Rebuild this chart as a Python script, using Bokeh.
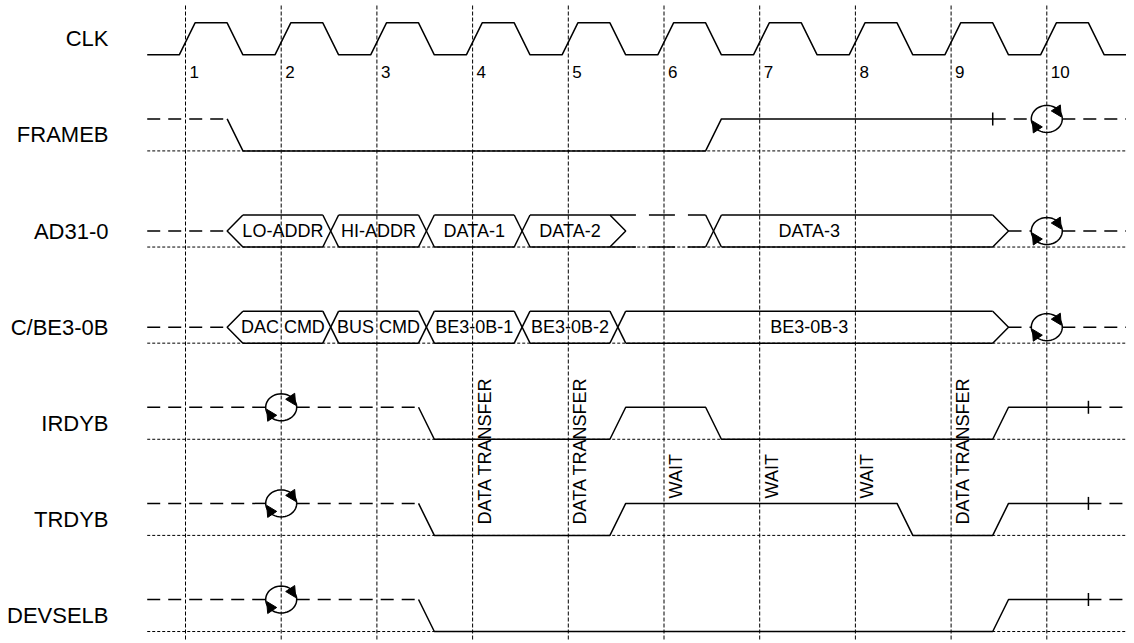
import math
from bokeh.plotting import figure
from bokeh.models import Range1d
from bokeh.core.properties import value
from bokeh.embed import file_html
from bokeh.resources import INLINE

# ---------------- data ----------------
signal_names = ["CLK", "FRAMEB", "AD31-0", "C/BE3-0B", "IRDYB", "TRDYB", "DEVSELB"]
clock_edges = [1, 2, 3, 4, 5, 6, 7, 8, 9, 10]
clock_labels = ["1", "2", "3", "4", "5", "6", "7", "8", "9", "10"]

# single-bit signals: "Z" released (dashed high), "0"/"1" driven.
# a change starts at the falling clock edge of the listed cycle
frameb_states = ["Z", "0", "1", "Z"]
frameb_changes = [1, 6, 9]
frameb_turnaround = [10]

irdyb_states = ["Z", "0", "1", "0", "1", "Z"]
irdyb_changes = [3, 5, 6, 9, 10]
irdyb_turnaround = [2]

trdyb_states = ["Z", "0", "1", "0", "1", "Z"]
trdyb_changes = [3, 5, 8, 9, 10]
trdyb_turnaround = [2]

devselb_states = ["Z", "0", "1", "Z"]
devselb_changes = [3, 9, 10]
devselb_turnaround = [2]

# buses: "Z" released (dashed middle), "X" not valid (dashed rails), other = value
ad_states = ["Z", "LO-ADDR", "HI-ADDR", "DATA-1", "DATA-2", "X", "DATA-3", "Z"]
ad_changes = [1, 2, 3, 4, 5, 6, 9]
ad_turnaround = [10]

cbe_states = ["Z", "DAC CMD", "BUS CMD", "BE3-0B-1", "BE3-0B-2", "BE3-0B-3", "Z"]
cbe_changes = [1, 2, 3, 4, 5, 9]
cbe_turnaround = [10]

annotation_cycles = [4, 5, 6, 7, 8, 9]
annotation_texts = ["DATA TRANSFER", "DATA TRANSFER", "WAIT", "WAIT", "WAIT", "DATA TRANSFER"]

# ---------------- layout / style ----------------
W, H = 1126, 640
EDGE1_PX = 185.0
CYCLE_PX = 95.7


def t_of_px(px):
    return 1 + (px - EDGE1_PX) / CYCLE_PX


ROW_LOW0 = 54.3
ROW_STEP = 96.12
AMP = 32.0
T0 = 0.6
T1 = 11.3
OFF = 0.435      # transitions start at falling clock edge
D = 0.165        # transition duration
CLK_RISE = -0.065
RX = 15.5 / CYCLE_PX
RY = 13.5
TICK = 6.5
FONT = value("Liberation Sans")
LW = 1.5


def low_y(i):
    return ROW_LOW0 + ROW_STEP * i


def high_y(i):
    return low_y(i) - AMP


def mid_y(i):
    return low_y(i) - AMP / 2


p = figure(width=W, height=H,
           x_range=Range1d(t_of_px(0), t_of_px(W)),
           y_range=Range1d(H, 0),
           output_backend="svg", toolbar_location=None,
           x_axis_location=None, y_axis_location=None, min_border=0)
p.grid.visible = False
p.outline_line_color = None
p.background_fill_color = "white"
p.border_fill_color = "white"

# vertical clock-edge guides
p.segment(x0=clock_edges, y0=[5] * len(clock_edges), x1=clock_edges, y1=[700] * len(clock_edges),
          line_color="black", line_width=1, line_dash="4 2")

# dotted baselines for every row except the clock
bl_rows = list(range(1, len(signal_names)))
p.segment(x0=[T0] * len(bl_rows), y0=[low_y(i) for i in bl_rows],
          x1=[T1] * len(bl_rows), y1=[low_y(i) for i in bl_rows],
          line_color="black", line_width=1, line_dash="3 2")

# containers
polys_x, polys_y = [], []
zd = dict(x0=[], y0=[], x1=[], y1=[])
xd = dict(x0=[], y0=[], x1=[], y1=[])
turn = []  # (t, y)
labels = dict(x=[], y=[], text=[])


def add_dash(store, x0, x1, y, turnarounds):
    cuts = [c for c in turnarounds if x0 < c < x1]
    pieces = []
    cur = x0
    for c in sorted(cuts):
        pieces.append((cur, c - RX))
        cur = c + RX
    pieces.append((cur, x1))
    for a, b in pieces:
        if b > a:
            store["x0"].append(a); store["x1"].append(b)
            store["y0"].append(y); store["y1"].append(y)
    for c in cuts:
        turn.append((c, y))


# clock
cx, cy = [T0], [low_y(0)]
for k in range(1, 12):
    for dt, lev in [(CLK_RISE, low_y(0)), (CLK_RISE + D, high_y(0)),
                    (OFF, high_y(0)), (OFF + D, low_y(0))]:
        cx.append(k + dt); cy.append(lev)
polys_x.append(cx); polys_y.append(cy)


def draw_bit(row, states, changes, turnarounds):
    hi, lo = high_y(row), low_y(row)
    lev = lambda s: lo if s == "0" else hi
    cur_x, cur_y = [], []
    ticks = []
    n = len(states)
    for i, st in enumerate(states):
        start = T0 if i == 0 else changes[i - 1] + OFF
        end = T1 if i == n - 1 else changes[i] + OFF
        prev = states[i - 1] if i > 0 else None
        nxt = states[i + 1] if i + 1 < n else None
        if st == "Z":
            if cur_x:
                polys_x.append(cur_x); polys_y.append(cur_y)
                cur_x, cur_y = [], []
            add_dash(zd, start, end, hi, turnarounds)
        else:
            y = lev(st)
            if prev is None:
                cur_x, cur_y = [start], [y]
            else:
                if not cur_x:
                    cur_x, cur_y = [start], [lev(prev)]
                cur_x.append(start + D); cur_y.append(y)
            cur_x.append(end); cur_y.append(y)
            if nxt == "Z":
                ticks.append((end, y))
    if cur_x:
        polys_x.append(cur_x); polys_y.append(cur_y)
    for tx, ty in ticks:
        polys_x.append([tx, tx]); polys_y.append([ty - TICK, ty + TICK])


def draw_bus(row, states, changes, turnarounds):
    top, bot, mid = high_y(row), low_y(row), mid_y(row)
    valid = lambda s: s not in ("Z", "X")
    n = len(states)
    starts = [T0] + [c + OFF for c in changes]
    ends = [c + OFF for c in changes] + [T1]
    for i, st in enumerate(states):
        start, end = starts[i], ends[i]
        prev = states[i - 1] if i > 0 else None
        if prev is not None:
            ts, te = start, start + D
            if valid(prev) and valid(st) or (prev == "X" and valid(st)):
                polys_x.append([ts, te]); polys_y.append([top, bot])
                polys_x.append([ts, te]); polys_y.append([bot, top])
            elif prev == "Z" and valid(st):
                polys_x.append([te, ts, te]); polys_y.append([top, mid, bot])
            elif valid(prev) and st in ("Z", "X"):
                polys_x.append([ts, te, ts]); polys_y.append([top, mid, bot])
        if st == "Z":
            x0 = start + D if (prev is not None and valid(prev)) else start
            add_dash(zd, x0, end, mid, turnarounds)
        elif st == "X":
            for y in (top, bot):
                xd["x0"].append(start); xd["x1"].append(end)
                xd["y0"].append(y); xd["y1"].append(y)
        else:
            x0 = start + D if prev is not None else start
            for y in (top, bot):
                polys_x.append([x0, end]); polys_y.append([y, y])
            lab_start = starts[i - 1] if prev == "X" else start
            lab_end = end + D if i < n - 1 else end
            labels["x"].append((lab_start + lab_end) / 2)
            labels["y"].append(mid)
            labels["text"].append(st)


draw_bit(1, frameb_states, frameb_changes, frameb_turnaround)
draw_bus(2, ad_states, ad_changes, ad_turnaround)
draw_bus(3, cbe_states, cbe_changes, cbe_turnaround)
draw_bit(4, irdyb_states, irdyb_changes, irdyb_turnaround)
draw_bit(5, trdyb_states, trdyb_changes, trdyb_turnaround)
draw_bit(6, devselb_states, devselb_changes, devselb_turnaround)

p.multi_line(xs=polys_x, ys=polys_y, line_color="black", line_width=LW)
p.segment(x0=zd["x0"], y0=zd["y0"], x1=zd["x1"], y1=zd["y1"],
          line_color="black", line_width=LW, line_dash="13 8")
p.segment(x0=xd["x0"], y0=xd["y0"], x1=xd["x1"], y1=xd["y1"],
          line_color="black", line_width=LW, line_dash="26 13")

# turnaround symbols
ex, ey, trx, try_ = [], [], [], []
for (tc, yc) in turn:
    n = 48
    ex.append([tc + RX * math.cos(2 * math.pi * j / n) for j in range(n + 1)])
    ey.append([yc + RY * math.sin(2 * math.pi * j / n) for j in range(n + 1)])
    for sgn in (1, -1):
        pts = [(13.5, -14.0), (14.5, -2.0), (4.5, -8.0)]
        trx.append([tc + sgn * px / CYCLE_PX for px, py in pts])
        try_.append([yc + sgn * py for px, py in pts])
p.multi_line(xs=ex, ys=ey, line_color="black", line_width=LW)
p.patches(xs=trx, ys=try_, fill_color="black", line_color="black", line_width=1)

# bus value labels
p.text(x=labels["x"], y=labels["y"], text=labels["text"], text_font=FONT,
       text_font_size="18px", text_align="center", text_baseline="middle", text_color="black")

# signal names
p.text(x=[t_of_px(108)] * len(signal_names), y=[mid_y(i) for i in range(len(signal_names))],
       text=signal_names, text_font=FONT, text_font_size="22px",
       text_align="right", text_baseline="middle", text_color="black")

# clock edge numbers
p.text(x=clock_edges, y=[low_y(0) + 17] * len(clock_edges), text=clock_labels,
       x_offset=4, text_font=FONT, text_font_size="17px",
       text_align="left", text_baseline="middle", text_color="black")

# vertical annotations along TRDYB row
ann_y = []
for t in annotation_texts:
    ann_y.append(low_y(5) - 11 if t == "DATA TRANSFER" else high_y(5) - 5)
p.text(x=annotation_cycles, y=ann_y, text=annotation_texts, angle=math.pi / 2,
       x_offset=12, text_font=FONT, text_font_size="18px",
       text_align="left", text_baseline="middle", text_color="black")

open("out.html", "w").write(file_html(p, INLINE))
